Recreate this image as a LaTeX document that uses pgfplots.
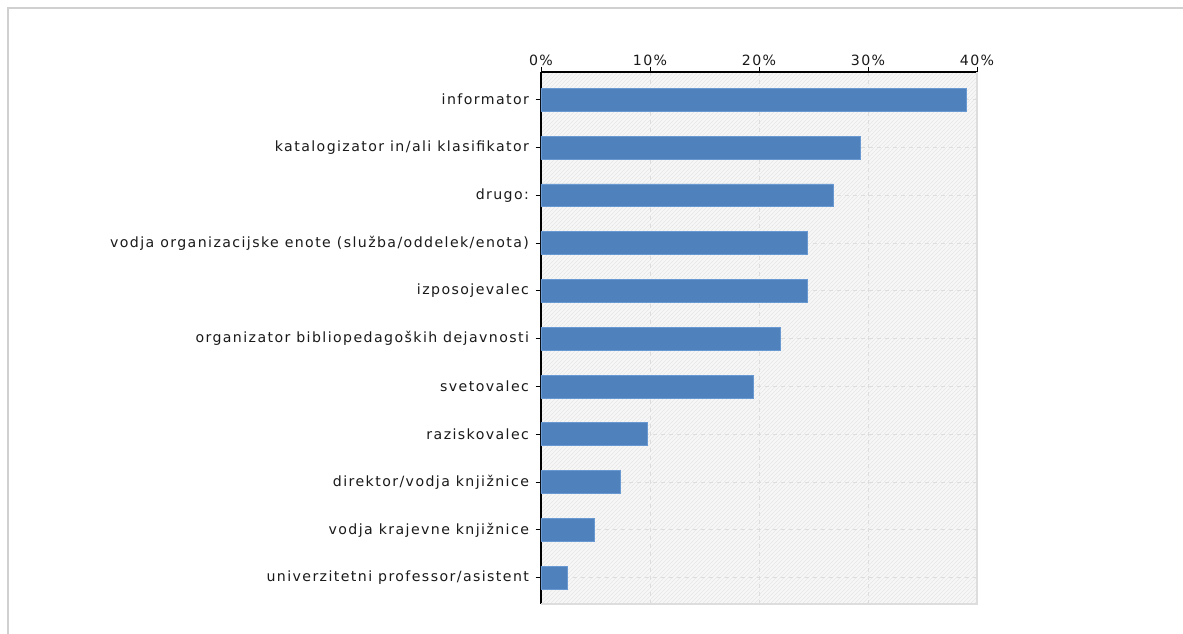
\documentclass[border=0pt]{standalone}
\usepackage{fontspec}
\setmainfont{DejaVu Sans}
\newfontfamily\lblfont[LetterSpace=10]{DejaVu Sans}
\usepackage{pgfplots}
\pgfplotsset{compat=1.18}
\usetikzlibrary{patterns}

\definecolor{barblue}{HTML}{4F81BD}
\definecolor{baredge}{HTML}{6A98D0}
\definecolor{gridgray}{HTML}{DDDDDD}
\definecolor{bgfill}{HTML}{F7F7F7}
\definecolor{hatch}{HTML}{E6E6E6}
\definecolor{framegray}{HTML}{D0D0D0}

\begin{document}
\begin{tikzpicture}
% page is 1183x634 px at 0.75pt per px
\path[use as bounding box] (-405.75pt,-22.5pt) rectangle (481.5pt,453pt);
\draw[framegray, line width=1.5pt] (-399.75pt,-22.5pt) -- (-399.75pt,447pt) -- (481.5pt,447pt);
\begin{axis}[
    at={(0,0)}, anchor=south west,
    scale only axis,
    width=327pt, height=399pt,
    xbar, bar width=0.48,
    xmin=0, xmax=40,
    ymin=-0.55, ymax=10.58,
    axis x line*=top, axis y line*=left,
    axis line style={black, line width=0.9pt},
    xtick={0,10,20,30,40},
    xticklabel={\pgfmathprintnumber{\tick}\%},
    ytick={0,...,10},
    yticklabels={
        univerzitetni professor/asistent,
        vodja krajevne knjižnice,
        direktor/vodja knjižnice,
        raziskovalec,
        svetovalec,
        organizator bibliopedagoških dejavnosti,
        izposojevalec,
        vodja organizacijske enote (služba/oddelek/enota),
        drugo:,
        katalogizator in/ali klasifikator,
        informator},
    tick align=outside,
    major tick length=4pt,
    tick style={black, line width=0.7pt},
    ticklabel style={font=\lblfont\fontsize{10.6}{12}\selectfont, text=black!90},
    yticklabel style={xshift=-1.5pt},
    xticklabel style={yshift=-3pt},
    /pgf/number format/assume math mode=true,
    xmajorgrids, ymajorgrids,
    grid style={gridgray, dashed, line width=0.7pt},
    axis background/.style={fill=bgfill, postaction={pattern=north east lines, pattern color=hatch}},
    clip=false,
]
\addplot[fill=barblue, draw=baredge, line width=0.5pt] coordinates {
    (2.44,0) (4.88,1) (7.32,2) (9.76,3) (19.51,4) (21.95,5)
    (24.39,6) (24.39,7) (26.83,8) (29.27,9) (39.02,10)
};
\draw[gridgray, line width=0.8pt] (rel axis cs:0,0) -- (rel axis cs:1,0) -- (rel axis cs:1,1);
\end{axis}
\end{tikzpicture}
\end{document}
